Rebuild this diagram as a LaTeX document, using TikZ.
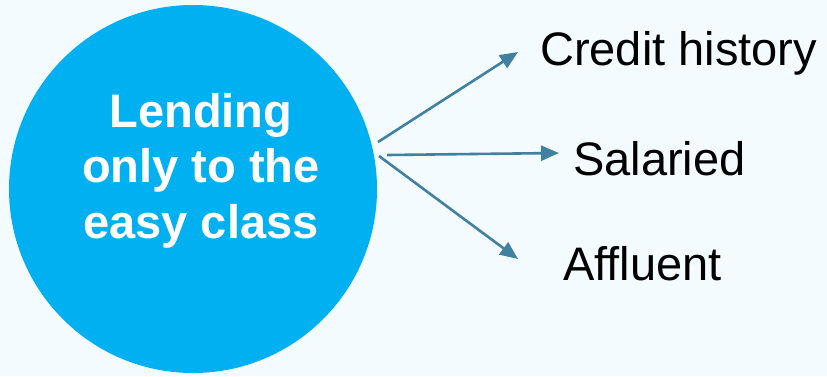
\documentclass[tikz,border=0pt]{standalone}
\usepackage{fontspec}
\setmainfont{Liberation Sans}
\usetikzlibrary{arrows.meta}
\definecolor{pagebg}{HTML}{F4FBFE}
\definecolor{hubblue}{HTML}{00B0F0}
\definecolor{arrowblue}{HTML}{41809F}
\begin{document}
\begin{tikzpicture}[x=1pt,y=-1pt,
  hub/.style={circle,fill=hubblue,minimum size=368pt,inner sep=0pt},
  hubtext/.style={anchor=base,inner sep=0pt,text=white,
    font=\bfseries\fontsize{47}{55.5}\selectfont,align=center},
  label/.style={anchor=base west,inner sep=0pt,font=\fontsize{47}{56}\selectfont,text=black},
  link/.style={draw=arrowblue,line width=2.6pt,-{Triangle[length=18pt,width=15pt]}}]
  % page
  \fill[pagebg] (0,0) rectangle (827,376);
  \useasboundingbox (0,0) rectangle (827,376);
  % central circle
  \node[hub] (hub) at (193,189) {};
  \node[hubtext] (hubtext) at (201,238) {Lending\\only to the\\easy class};
  % outcome labels
  \node[label] (credit) at (540,65) {Credit history};
  \node[label] (salaried) at (573,175) {Salaried};
  \node[label] (affluent) at (563,280) {Affluent};
  % arrow ends
  \coordinate (s1) at (378,142);
  \coordinate (s2) at (387,155);
  \coordinate (s3) at (379,156);
  \coordinate (t1) at (518,52);
  \coordinate (t2) at (559,153);
  \coordinate (t3) at (518,259);
  \draw[link] (s1) -- (t1);
  \draw[link] (s2) -- (t2);
  \draw[link] (s3) -- (t3);
\end{tikzpicture}
\end{document}
